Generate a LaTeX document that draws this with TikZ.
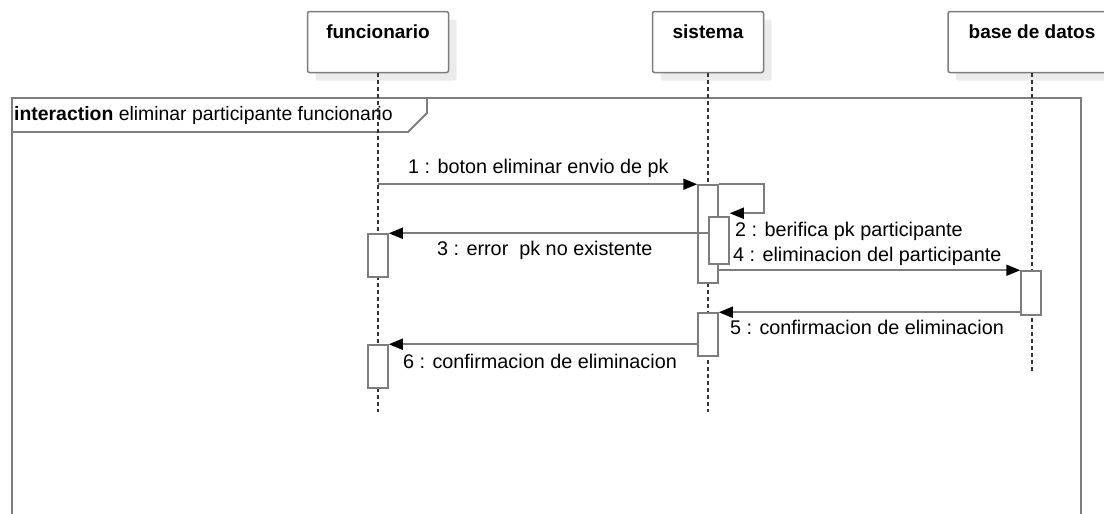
\documentclass[tikz,border=0pt]{standalone}
\usepackage{fontspec}
\setmainfont{Liberation Sans}
\usetikzlibrary{arrows.meta}
\usetikzlibrary{shadows}
\usetikzlibrary{calc,positioning}

\definecolor{umlgray}{RGB}{125,125,125}

\begin{document}
\begin{tikzpicture}[x=1pt, y=-1pt, font=\fontsize{19}{22}\selectfont]
	\tikzstyle{lifebox}=[draw=umlgray, line width=1.5pt, rounded corners=2pt, fill=white,
	minimum height=61pt, inner sep=0pt,
	drop shadow={shadow xshift=8pt, shadow yshift=-8pt, fill=black!8, opacity=1}]
	\tikzstyle{act}=[draw=umlgray, fill=white, line width=1.5pt, minimum width=20pt, inner sep=0pt]
	\tikzstyle{lifeline}=[black!80, dash pattern=on 4pt off 3pt, line width=1.2pt]
	\tikzstyle{msg}=[umlgray, line width=1.8pt, -{Triangle[length=14pt, width=11pt, color=black]}]
	\tikzstyle{frame}=[umlgray, line width=1.8pt]
	\tikzstyle{lbl}=[inner sep=0pt, anchor=west, font=\fontsize{19.8}{22}\selectfont]

	\useasboundingbox (0,0) rectangle (1104,514);

	% frame
	\draw[frame] (12,98) rectangle (1081,540);
	\draw[frame] (12,98) -- (427,98) -- (427,113) -- (408,132) -- (12,132);
	\node[lbl, font=\fontsize{19.4}{22}\selectfont] (title) at (14,115) {\textbf{interaction} eliminar participante funcionario};

	% lifelines
	\node[lifebox, minimum width=141pt] (boxF) at (378,42) {};
	\node[lifebox, minimum width=111pt] (boxS) at (708,42) {};
	\node[lifebox, minimum width=168pt] (boxD) at (1032,42) {};
	\node[font=\fontsize{19}{22}\selectfont\bfseries] (nameF) at ([yshift=-21pt]boxF.north) {funcionario};
	\node[font=\fontsize{19}{22}\selectfont\bfseries] (nameS) at ([yshift=-21pt]boxS.north) {sistema};
	\node[font=\fontsize{19}{22}\selectfont\bfseries] (nameD) at ([yshift=-21pt]boxD.north) {base de datos};

	\coordinate (endF) at (378,412);
	\coordinate (endS) at (708,412);
	\coordinate (endD) at (1032,373);
	\draw[lifeline] (boxF.south) -- (endF);
	\draw[lifeline] (boxS.south) -- (endS);
	\draw[lifeline] (boxD.south) -- (endD);

	% activations
	\node[act, minimum height=98pt] (actS1) at (708,234) {};
	\node[act, minimum height=47pt] (actS2) at (719,240.5) {};
	\node[act, minimum height=43pt] (actF1) at (378,255.5) {};
	\node[act, minimum height=44pt] (actD1) at (1031,293) {};
	\node[act, minimum height=43pt] (actS3) at (708,334.5) {};
	\node[act, minimum height=43pt] (actF2) at (378,366.5) {};

	% messages
	\draw[msg] (boxF.south |- actS1.north west) -- (actS1.north west);
	\draw[msg] (actS1.north east) -- ++(45,0) |- ([yshift=3pt]actS2.north east);
	\draw[msg] (actS2.west |- actF1.north) -- (actF1.north east);
	\draw[msg] (actS1.east |- actD1.north) -- (actD1.north west);
	\draw[msg] (actD1.west |- actS3.north) -- (actS3.north east);
	\draw[msg] (actS3.west |- actF2.north) -- (actF2.north east);

	\node[lbl] (m1) at (408,168) {1 : boton eliminar envio de pk};
	\node[lbl] (m2) at (735,231) {2 : berifica pk participante};
	\node[lbl] (m3) at (437,250) {3 : error\ \ pk no existente};
	\node[lbl] (m4) at (733,256) {4 : eliminacion del participante};
	\node[lbl] (m5) at (730,327) {5 : confirmacion de eliminacion};
	\node[lbl] (m6) at (403,361) {6 : confirmacion de eliminacion};
\end{tikzpicture}
\end{document}
